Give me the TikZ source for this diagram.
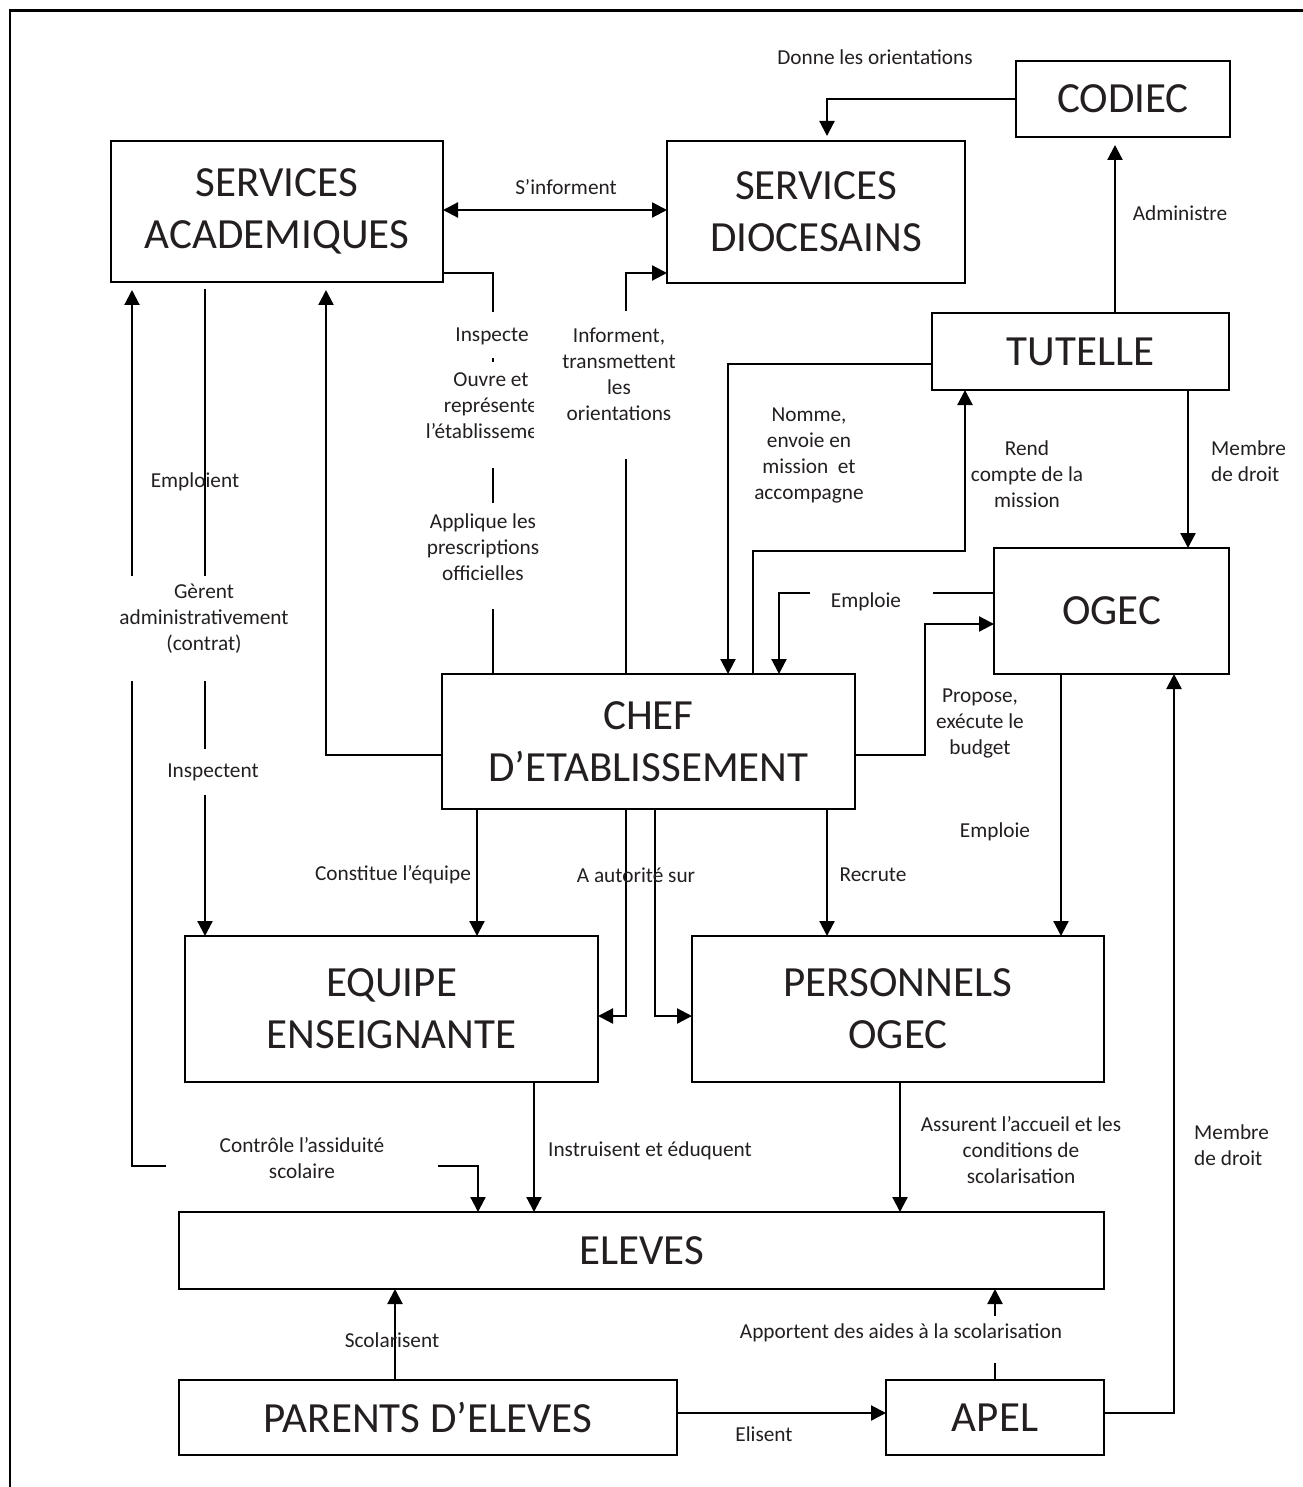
\documentclass[tikz,border=0pt]{standalone}
\usepackage{fontspec}
\setmainfont{Carlito}
\usetikzlibrary{arrows.meta}
\definecolor{encre}{RGB}{35,31,32}
\tikzstyle{boite} = [rectangle, draw=black, line width=2.5pt, inner sep=0pt, outer sep=0pt, text centered, align=center, text=encre, font=\fontsize{43}{52}\selectfont]
\tikzstyle{legende} = [inner sep=0pt, align=center, text=encre, font=\fontsize{21.3}{26}\selectfont]
\tikzstyle{trait} = [line width=2.2pt]
\tikzstyle{arrow} = [line width=2.2pt, -{Triangle[length=15pt,width=15pt]}]
\tikzstyle{arrows2} = [line width=2.2pt, {Triangle[length=15pt,width=15pt]}-{Triangle[length=15pt,width=15pt]}]

\begin{document}
\begin{tikzpicture}[x=1pt, y=-1pt]
\useasboundingbox (0,0) rectangle (1302,1487);
% cadre
\draw[line width=2.6pt] (10,1492) -- (10,10.5) -- (1306,10.5);

\node (codiec) [boite, minimum width=214pt, minimum height=76pt] at (1123,99) {CODIEC};
\node (sa) [boite, minimum width=332pt, minimum height=141pt] at (277,211.5) {SERVICES\\ACADEMIQUES};
\node (sd) [boite, minimum width=298pt, minimum height=142pt] at (816,212) {SERVICES\\DIOCESAINS};
\node (tutelle) [boite, minimum width=297pt, minimum height=77pt] at (1080.5,351.5) {TUTELLE};
\node (ogec) [boite, minimum width=235pt, minimum height=126pt] at (1111.5,611) {OGEC};
\node (chef) [boite, minimum width=413pt, minimum height=135pt] at (648.5,741.5) {CHEF\\D’ETABLISSEMENT};
\node (equipe) [boite, minimum width=413pt, minimum height=146pt] at (391.5,1009) {EQUIPE\\ENSEIGNANTE};
\node (pers) [boite, minimum width=412pt, minimum height=146pt] at (898,1009) {PERSONNELS\\OGEC};
\node (eleves) [boite, minimum width=925pt, minimum height=77pt] at (641.5,1250.5) {ELEVES};
\node (parents) [boite, minimum width=498pt, minimum height=75pt] at (428,1417.5) {PARENTS D’ELEVES};
\node (apel) [boite, minimum width=218pt, minimum height=75pt] at (995,1417.5) {APEL};

% points des traits
\coordinate (donne) at (827,98);
\coordinate (inspA) at (493,273);
\coordinate (inspB) at (493,312);
\coordinate (inspC) at (493,358);
\coordinate (inspD) at (493,362);
\coordinate (inspE) at (493,468);
\coordinate (inspF) at (493,503);
\coordinate (inspG) at (493,609);
\coordinate (infoA) at (626,459);
\coordinate (infoB) at (626,311);
\coordinate (infoC) at (626,273);
\coordinate (admin) at (1115,0);
\coordinate (nomme) at (728,364);
\coordinate (rendA) at (753,551);
\coordinate (rendB) at (965,551);
\coordinate (membreA) at (1188,0);
\coordinate (emploiA) at (933,593);
\coordinate (emploiB) at (810,593);
\coordinate (emploiC) at (779,0);
\coordinate (propA) at (925,755);
\coordinate (propB) at (925,624);
\coordinate (emploiD) at (1061,0);
\coordinate (recrute) at (827,0);
\coordinate (constitue) at (477,0);
\coordinate (autA) at (626,1016);
\coordinate (autB) at (655,1016);
\coordinate (saA) at (326,755);
\coordinate (gerA) at (205,576);
\coordinate (gerB) at (205,681);
\coordinate (gerC) at (205,749);
\coordinate (gerD) at (205,795);
\coordinate (ctlA) at (478,1166);
\coordinate (ctlB) at (438,1166);
\coordinate (ctlC) at (166,1166);
\coordinate (ctlD) at (132,1166);
\coordinate (ctlE) at (132,681);
\coordinate (ctlF) at (132,576);
\coordinate (instruit) at (534,0);
\coordinate (assure) at (900,0);
\coordinate (scola) at (395,0);
\coordinate (appA) at (995,1363);
\coordinate (appB) at (995,1316);
\coordinate (elisent) at (0,1413);
\coordinate (membreB) at (1174,1413);

% liens
\draw [arrow, shorten >=5pt] (codiec.west) -| (sd.north -| donne);
\draw [arrows2] (sa.east |- 0,210) -- (sd.west |- 0,210);
\draw [trait] (sa.east |- inspA) -- (inspA) -- (inspB);
\draw [trait] (inspC) -- (inspD);
\draw [trait] (inspE) -- (inspF);
\draw [trait] (inspG) -- (chef.north -| inspG);
\draw [trait] (chef.north -| infoA) -- (infoA);
\draw [arrow] (infoB) -- (infoC) -- (infoC -| sd.west);
\draw [arrow, shorten >=8pt] (tutelle.north -| admin) -- (codiec.south -| admin);
\draw [arrow] (tutelle.west |- nomme) -| (chef.north -| nomme);
\draw [arrow] (chef.north -| rendA) -- (rendA) -- (rendB) -- (tutelle.south -| rendB);
\draw [arrow] (tutelle.south -| membreA) -- (ogec.north -| membreA);
\draw [trait] (ogec.west |- emploiA) -- (emploiA);
\draw [arrow] (emploiB) -| (chef.north -| emploiC);
\draw [arrow] (chef.east |- propA) -- (propA) -- (propB) -- (propB -| ogec.west);
\draw [arrow] (ogec.south -| emploiD) -- (pers.north -| emploiD);
\draw [arrow] (chef.south -| recrute) -- (pers.north -| recrute);
\draw [arrow] (chef.south -| constitue) -- (equipe.north -| constitue);
\draw [arrow] (chef.south -| autA) -- (autA) -- (autA -| equipe.east);
\draw [arrow] (chef.south -| autB) -- (autB) -- (autB -| pers.west);
\draw [arrow, shorten >=8pt] (chef.west |- saA) -- (saA) -- (sa.south -| saA);
\draw [trait, shorten <=7pt] (sa.south -| gerA) -- (gerA);
\draw [trait] (gerB) -- (gerC);
\draw [arrow] (gerD) -- (equipe.north -| gerD);
\draw [arrow] (ctlB) -- (ctlA) -- (eleves.north -| ctlA);
\draw [trait] (ctlC) -- (ctlD) -- (ctlE);
\draw [arrow, shorten >=8pt] (ctlF) -- (sa.south -| ctlF);
\draw [arrow] (equipe.south -| instruit) -- (eleves.north -| instruit);
\draw [arrow] (pers.south -| assure) -- (eleves.north -| assure);
\draw [arrow] (parents.north -| scola) -- (eleves.south -| scola);
\draw [trait] (apel.north -| appA) -- (appA);
\draw [arrow] (appB) -- (eleves.south -| appB);
\draw [arrow] (parents.east |- elisent) -- (apel.west |- elisent);
\draw [arrow] (apel.east |- membreB) -- (membreB) -- (ogec.south -| membreB);

% textes
\node (tDonne) [legende] at (875,57) {Donne les orientations};
\node (tInforment) [legende] at (566,187) {S’informent};
\node (tAdmin) [legende] at (1180,213) {Administre};
\node (tInspecte) [legende] at (492,336) {Inspecte};
\begin{scope}
\clip (380,360) rectangle (533,450);
\node (tOuvre) [legende] at (491,405.5) {Ouvre et\\représente\\l’établissement};
\end{scope}
\node (tInfo) [legende] at (619,374.5) {Informent,\\transmettent\\les\\orientations};
\node (tApplique) [legende] at (483,547) {Applique les\\prescriptions\\officielles};
\node (tNomme) [legende] at (809,455) {Nomme,\\envoie en\\mission\ \ et\\accompagne};
\node (tRend) [legende] at (1027,474) {Rend\\compte de la\\mission};
\node (tMembreA) [legende, anchor=west, align=left] at (1211,461) {Membre\\de droit};
\node (tEmploieA) [legende] at (866,602) {Emploie};
\node (tPropose) [legende] at (980,723) {Propose,\\exécute le\\budget};
\node (tEmploient) [legende] at (195,482) {Emploient};
\node (tGerent) [legende] at (204,619) {Gèrent\\administrativement\\(contrat)};
\node (tInspectent) [legende] at (213,772) {Inspectent};
\node (tConstitue) [legende] at (393,875) {Constitue l’équipe};
\node (tAutorite) [legende] at (636,875) {A autorité sur};
\node (tRecrute) [legende] at (873,875) {Recrute};
\node (tEmploieB) [legende] at (995,832) {Emploie};
\node (tControle) [legende] at (302,1158) {Contrôle l’assiduité\\scolaire};
\node (tInstruit) [legende] at (650,1151) {Instruisent et éduquent};
\node (tAssure) [legende] at (1021,1150) {Assurent l’accueil et les\\conditions de\\scolarisation};
\node (tMembreB) [legende, anchor=west, align=left] at (1194,1145) {Membre\\de droit};
\node (tScola) [legende] at (392,1340) {Scolarisent};
\node (tApporte) [legende] at (901,1333) {Apportent des aides à la scolarisation};
\node (tElisent) [legende] at (764,1434) {Elisent};
\end{tikzpicture}
\end{document}
